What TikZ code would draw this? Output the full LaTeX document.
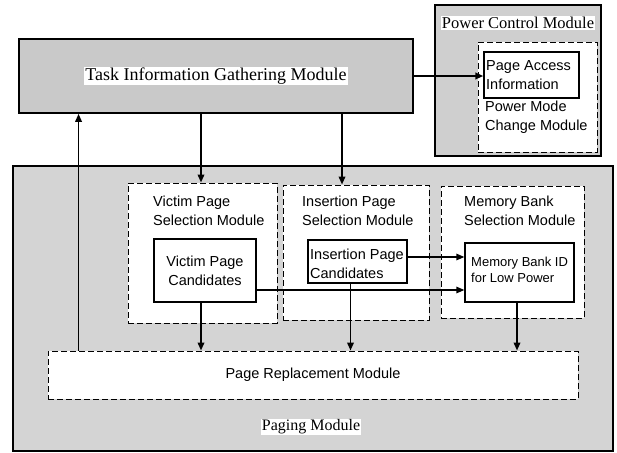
\documentclass[tikz,border=0pt]{standalone}
\usepackage{fontspec}
\setmainfont{Liberation Serif}
\setsansfont{Liberation Sans}
\usetikzlibrary{arrows.meta}

\begin{document}
\begin{tikzpicture}[x=1pt,y=-1pt,
    box/.style={draw,line width=1.3pt,inner sep=0pt},
    dbox/.style={draw,fill=white,line width=0.9pt,dash pattern=on 6pt off 3pt,inner sep=0pt},
    sans/.style={font=\sffamily\fontsize{14.5}{19}\selectfont,inner sep=0pt,align=left},
    serif/.style={fill=white,inner sep=1pt},
    arr/.style={line width=1.8pt,-{Triangle[length=8pt,width=6.5pt]}}]
    \useasboundingbox (0,0) rectangle (617,452);

    \node[box,line width=1.6pt,fill=black!17,minimum width=600pt,minimum height=285pt] (paging) at (313,308.5) {};
    \node[box,line width=1.6pt,fill=black!21,minimum width=394pt,minimum height=74pt] (task) at (216,76) {};
    \node[box,fill=black!19,minimum width=166pt,minimum height=151pt] (pcm) at (518,80.5) {};

    \node[serif,font=\fontsize{18}{22}\selectfont] (tasklbl) at (task) {Task Information Gathering Module};
    \node[serif,font=\fontsize{16.5}{20}\selectfont] (pcmlbl) at (518,23) {Power Control Module};
    \node[serif,font=\fontsize{16}{20}\selectfont] (paginglbl) at (311,427) {Paging Module};

    \node[dbox,minimum width=119pt,minimum height=110pt] (pmc) at (537.5,97) {};
    \node[box,fill=white,minimum width=95pt,minimum height=46pt] (pai) at (531.5,75) {};
    \node[sans,anchor=west] (pailbl) at (486,75) {Page Access\\Information};
    \node[sans,anchor=west] (pmclbl) at (485,117) {Power Mode\\Change Module};

    \node[dbox,minimum width=149pt,minimum height=140pt] (vsel) at (202.5,253) {};
    \node[dbox,minimum width=146pt,minimum height=135pt] (isel) at (356,252.5) {};
    \node[dbox,minimum width=143pt,minimum height=132pt] (msel) at (512.5,252) {};
    \node[dbox,minimum width=530pt,minimum height=48pt] (prm) at (313,375) {};

    \node[sans,anchor=west] (vsellbl) at (153,211) {Victim Page\\Selection Module};
    \node[sans,anchor=west] (isellbl) at (302,211) {Insertion Page\\Selection Module};
    \node[sans,anchor=west] (msellbl) at (464,211) {Memory Bank\\Selection Module};

    \node[box,fill=white,minimum width=102pt,minimum height=63pt] (vpc) at (205,270.5) {};
    \node[box,fill=white,minimum width=99pt,minimum height=43pt] (ipc) at (357.5,261.5) {};
    \node[box,fill=white,minimum width=109pt,minimum height=59pt] (mbid) at (519.5,272.5) {};
    \node[sans,align=center] (vpclbl) at (vpc) {Victim Page\\Candidates};
    \node[sans,anchor=west] (ipclbl) at (310,264) {Insertion Page\\Candidates};
    \node[sans,anchor=west,font=\sffamily\fontsize{13}{16}\selectfont] (mbidlbl) at (471,270) {Memory Bank ID\\for Low Power};
    \node[sans] (prmlbl) at (prm) {Page Replacement Module};

    \draw[arr,line width=2.6pt] (task.east) -- (task.east -| pai.west);
    \draw[arr] ([xshift=31pt]prm.north west) -- ([xshift=31pt]prm.north west |- task.south);
    \draw[arr] ([xshift=-1.5pt]vsel.north |- task.south) -- ([xshift=-1.5pt]vsel.north);
    \draw[arr] ([xshift=-14pt]isel.north |- task.south) -- ([xshift=-14pt]isel.north);

    \draw[arr,line width=1.4pt] ([yshift=4.5pt]ipc.east) -- ([yshift=4.5pt]ipc.east -| mbid.west);
    \draw[arr,line width=1.4pt] ([yshift=-19.5pt]vpc.east) -- ([yshift=-19.5pt]vpc.east -| mbid.west);

    \foreach \n/\dx in {vpc/-4, ipc/-7, mbid/-2.5} {
      \draw[arr] ([xshift=\dx pt]\n.south) -- ([xshift=\dx pt]\n.south |- prm.north);
    }
  \end{tikzpicture}
\end{document}
